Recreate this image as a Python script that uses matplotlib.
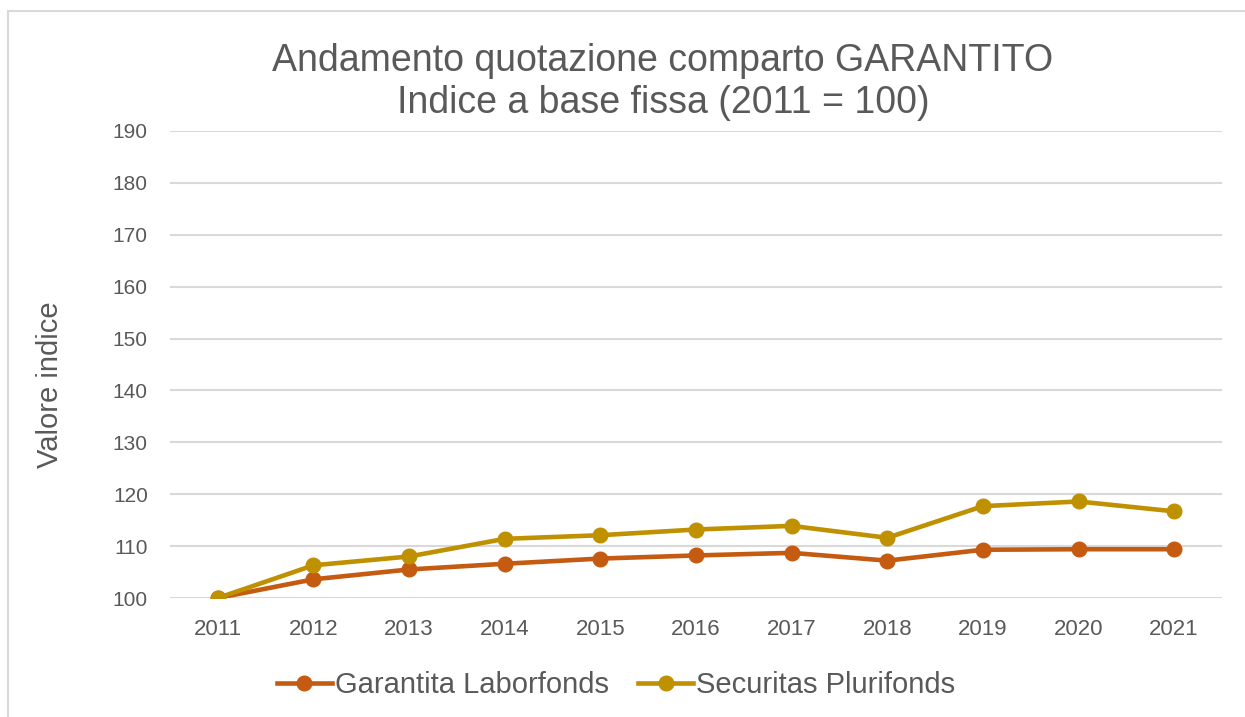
from matplotlib import pyplot as plt, patches

years = ['2011', '2012', '2013', '2014', '2015', '2016', '2017', '2018', '2019', '2020', '2021']
garantita = [100, 103.6, 105.5, 106.6, 107.6, 108.2, 108.7, 107.2, 109.3, 109.4, 109.4]
securitas = [100, 106.3, 108.0, 111.4, 112.1, 113.2, 113.9, 111.6, 117.7, 118.6, 116.7]
y_ticks = [100, 110, 120, 130, 140, 150, 160, 170, 180, 190]

text_col = '#595959'
plt.rcParams['font.family'] = ['Liberation Sans', 'DejaVu Sans']

fig = plt.figure(figsize=(12.45, 7.17), dpi=100)
ax = fig.add_axes([170 / 1245, 1 - 598 / 717, (1222 - 170) / 1245, (598 - 131) / 717])

x = range(len(years))
ax.plot(x, garantita, color='#C55A11', lw=3.3, marker='o', ms=10.5, label='Garantita Laborfonds', zorder=3)
ax.plot(x, securitas, color='#BF9000', lw=3.3, marker='o', ms=10.5, label='Securitas Plurifonds', zorder=3)

ax.set_xlim(-0.5, len(years) - 0.5)
ax.set_ylim(100, 190)
ax.set_xticks(list(x))
ax.set_xticklabels(years)
ax.set_yticks(y_ticks)
ax.tick_params(axis='x', length=0, pad=15, labelsize=16, labelcolor=text_col)
ax.tick_params(axis='y', length=0, pad=16, labelsize=15, labelcolor=text_col)
ax.grid(axis='y', color='#D9D9D9', lw=1.5)
ax.set_axisbelow(True)
for s in ax.spines.values():
    s.set_visible(False)

fig.text(663 / 1245, 1 - 82 / 717, 'Andamento quotazione comparto GARANTITO\nIndice a base fissa (2011 = 100)',
         ha='center', va='center', fontsize=27, color=text_col, linespacing=1.2)
fig.text(50 / 1245, 1 - 385 / 717, 'Valore indice', rotation=90, ha='center', va='center',
         fontsize=21, color=text_col)

leg = fig.legend(loc='center', bbox_to_anchor=(616 / 1245, 1 - 685 / 717), ncol=2, frameon=False,
                 fontsize=21, handlelength=1.9, handletextpad=0.1, columnspacing=1.0)
for t in leg.get_texts():
    t.set_color(text_col)

# light frame round the chart (only top and left edges visible)
fig.patches.append(patches.Rectangle((8 / 1245, -0.1), 1.2, 1.1 - 11 / 717, transform=fig.transFigure,
                                     fill=False, edgecolor='#D9D9D9', lw=1.5))

fig.savefig('out.png', dpi=100)
